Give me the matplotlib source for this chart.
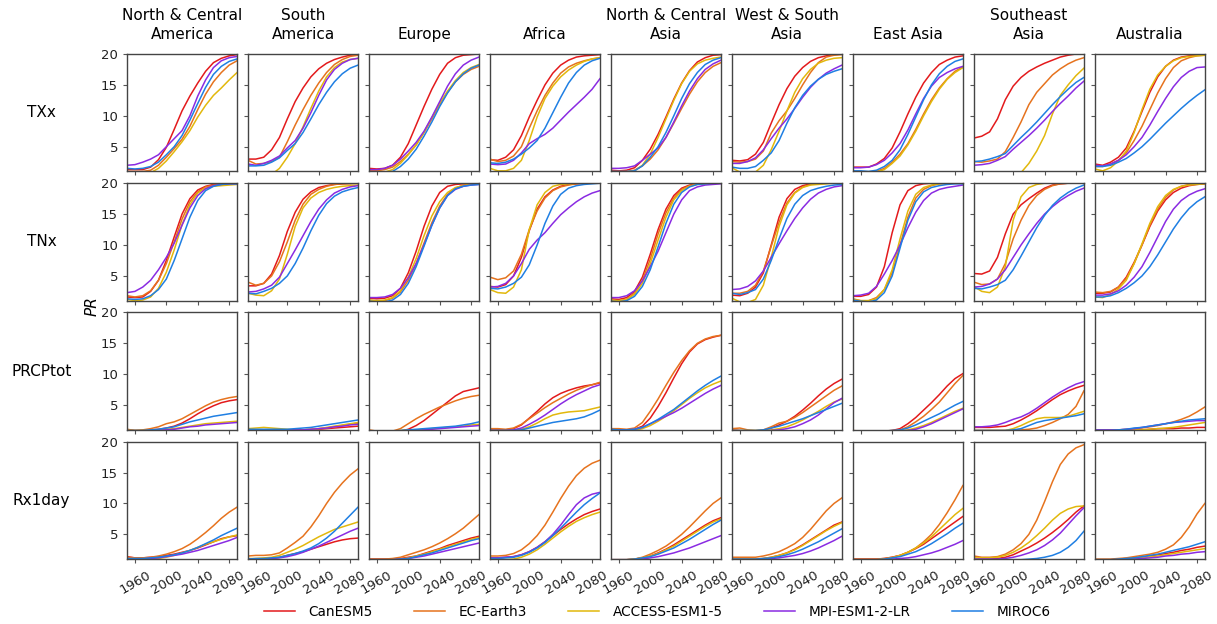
import matplotlib
matplotlib.use("Agg")
import matplotlib.pyplot as plt
import numpy as np

years = [1950, 1960, 1970, 1980, 1990, 2000, 2010, 2020, 2030, 2040, 2050, 2060, 2070, 2080, 2090]
regions = ["North & Central\nAmerica", "South\nAmerica", "Europe", "Africa", "North & Central\nAsia",
           "West & South\nAsia", "East Asia", "Southeast\nAsia", "Australia"]
indices = ["TXx", "TNx", "PRCPtot", "Rx1day"]
models = ["CanESM5", "EC-Earth3", "ACCESS-ESM1-5", "MPI-ESM1-2-LR", "MIROC6"]
colors = ["#e31a1c", "#e6731e", "#e2b80c", "#8a2be2", "#1f7fe3"]

# ---- TXx (rows = regions, cols = years) ----
txx_canesm5 = [
    [1.3, 1.3, 1.3, 1.7, 2.9, 4.9, 7.8, 10.8, 13.2, 15.3, 17.2, 18.6, 19.3, 19.7, 19.9],
    [3.0, 3.0, 3.3, 4.5, 6.5, 9.5, 12.3, 14.5, 16.3, 17.6, 18.5, 19.1, 19.5, 19.8, 19.9],
    [1.5, 1.4, 1.5, 2.0, 3.3, 5.5, 8.5, 11.5, 14.3, 16.7, 18.5, 19.4, 19.8, 19.9, 20.0],
    [2.9, 2.8, 3.3, 4.5, 6.8, 9.8, 12.5, 15.0, 16.9, 18.2, 19.0, 19.5, 19.7, 19.8, 19.9],
    [1.2, 1.1, 1.2, 1.6, 2.8, 4.6, 7.0, 9.8, 12.7, 15.3, 17.3, 18.7, 19.4, 19.8, 19.9],
    [2.8, 2.7, 2.9, 3.8, 5.7, 8.8, 11.8, 14.4, 16.4, 17.8, 18.8, 19.4, 19.7, 19.9, 20.0],
    [1.7, 1.7, 1.7, 2.2, 3.1, 4.8, 7.4, 10.3, 13.0, 15.3, 17.0, 18.3, 19.0, 19.5, 19.7],
    [6.4, 6.7, 7.4, 9.5, 12.6, 14.8, 16.2, 17.2, 17.9, 18.5, 19.0, 19.5, 19.8, 20.0, 20.0],
    [2.2, 2.0, 2.5, 3.3, 4.8, 7.5, 10.7, 13.8, 16.3, 18.0, 19.0, 19.5, 19.7, 19.8, 19.9],
]
txx_ecearth3 = [
    [1.0, 1.0, 1.0, 1.2, 2.0, 3.3, 4.7, 6.2, 8.3, 11.0, 13.5, 15.5, 17.0, 18.2, 18.9],
    [2.8, 2.2, 2.3, 2.6, 3.3, 5.8, 8.5, 11.0, 13.3, 15.3, 17.0, 18.3, 19.1, 19.6, 19.8],
    [1.2, 1.1, 1.3, 1.7, 2.6, 3.8, 5.3, 7.3, 9.5, 11.8, 13.8, 15.5, 16.7, 17.5, 18.0],
    [3.0, 2.6, 2.8, 3.5, 5.0, 8.0, 10.8, 13.3, 15.3, 16.9, 17.9, 18.5, 18.9, 19.2, 19.4],
    [1.0, 1.0, 1.0, 1.2, 1.9, 3.0, 4.5, 6.5, 8.8, 11.2, 13.5, 15.5, 17.0, 18.0, 18.6],
    [2.6, 2.5, 2.6, 3.0, 4.3, 7.2, 9.2, 10.8, 12.8, 15.0, 17.0, 18.6, 19.5, 19.8, 19.9],
    [1.0, 0.9, 0.9, 1.0, 1.5, 2.5, 3.8, 5.5, 7.8, 10.3, 12.6, 14.5, 16.0, 17.2, 17.9],
    [2.6, 2.5, 2.7, 3.0, 4.2, 6.5, 9.0, 11.8, 13.8, 15.2, 16.6, 17.6, 18.4, 19.0, 19.4],
    [1.8, 1.8, 2.2, 2.8, 4.0, 6.0, 8.3, 11.0, 13.7, 16.0, 17.8, 18.9, 19.4, 19.7, 19.8],
]
txx_access = [
    [0.5, 0.5, 0.6, 0.8, 1.5, 2.7, 4.2, 5.8, 7.6, 9.8, 11.7, 13.3, 14.5, 15.8, 17.0],
    [0.5, 0.5, 0.5, 0.5, 1.5, 3.3, 5.5, 8.2, 11.2, 14.0, 16.3, 17.8, 18.7, 19.1, 19.3],
    [0.8, 0.8, 0.9, 1.3, 2.3, 3.7, 5.3, 7.3, 9.7, 12.0, 14.0, 15.7, 17.0, 17.8, 18.3],
    [1.5, 1.1, 1.1, 1.5, 2.8, 6.0, 9.8, 12.8, 14.8, 16.3, 17.4, 18.2, 18.8, 19.2, 19.4],
    [0.9, 0.9, 0.9, 1.1, 2.0, 3.8, 6.5, 9.5, 12.5, 15.2, 17.2, 18.4, 19.0, 19.3, 19.5],
    [1.6, 0.9, 0.8, 0.9, 2.0, 4.5, 7.5, 10.8, 13.8, 16.0, 17.5, 18.5, 19.0, 19.3, 19.4],
    [0.8, 0.8, 0.8, 0.9, 1.3, 2.3, 3.5, 5.3, 7.5, 10.0, 12.3, 14.3, 15.9, 17.0, 17.8],
    [0.5, 0.5, 0.5, 0.5, 0.5, 0.5, 0.8, 2.3, 4.3, 6.8, 10.3, 13.3, 15.0, 16.5, 17.7],
    [1.4, 1.1, 1.6, 2.7, 4.3, 7.3, 11.0, 14.3, 16.6, 18.0, 18.9, 19.4, 19.6, 19.7, 19.8],
]
txx_mpi = [
    [2.0, 2.1, 2.5, 3.0, 3.7, 5.0, 6.3, 7.6, 10.0, 13.2, 15.8, 17.8, 18.9, 19.4, 19.6],
    [2.2, 2.0, 2.3, 2.8, 3.5, 4.8, 6.0, 8.0, 10.5, 13.3, 15.8, 17.5, 18.5, 19.1, 19.3],
    [1.3, 1.3, 1.5, 2.0, 3.0, 4.3, 5.7, 7.5, 9.8, 12.3, 14.8, 16.8, 18.2, 19.0, 19.5],
    [2.2, 2.1, 2.2, 2.8, 4.0, 5.5, 6.3, 7.0, 8.0, 9.3, 10.6, 11.8, 13.0, 14.3, 16.0],
    [1.5, 1.5, 1.6, 1.9, 2.8, 3.8, 4.8, 6.5, 9.0, 11.6, 14.0, 16.0, 17.5, 18.4, 19.0],
    [2.3, 2.3, 2.6, 3.2, 4.5, 6.3, 8.0, 9.5, 11.2, 13.0, 14.6, 15.9, 16.9, 17.6, 18.2],
    [1.6, 1.6, 1.7, 2.1, 2.8, 4.0, 5.5, 7.7, 10.3, 12.8, 14.8, 16.2, 17.0, 17.6, 18.0],
    [2.0, 2.1, 2.3, 2.8, 3.4, 4.6, 5.7, 6.8, 8.0, 9.3, 10.7, 12.0, 13.2, 14.5, 15.6],
    [2.0, 1.9, 2.2, 2.8, 3.7, 5.0, 6.5, 8.5, 10.7, 12.8, 14.7, 16.2, 17.2, 17.8, 17.9],
]
txx_miroc6 = [
    [1.5, 1.4, 1.5, 1.8, 2.5, 3.7, 5.0, 6.8, 9.3, 12.0, 14.6, 16.7, 18.0, 18.8, 19.2],
    [1.9, 1.9, 2.0, 2.5, 3.2, 4.4, 5.5, 7.3, 9.5, 11.8, 13.8, 15.5, 16.8, 17.7, 18.2],
    [0.9, 0.9, 0.9, 1.0, 1.8, 3.0, 4.6, 6.7, 9.0, 11.5, 13.7, 15.5, 16.8, 17.7, 18.2],
    [2.4, 2.3, 2.5, 3.0, 3.8, 4.8, 6.0, 8.0, 10.5, 13.0, 15.3, 17.0, 18.2, 18.9, 19.3],
    [1.0, 1.0, 1.0, 1.1, 1.9, 3.3, 5.0, 7.3, 10.0, 12.8, 15.2, 17.0, 18.3, 19.0, 19.4],
    [1.7, 1.5, 1.5, 1.8, 2.8, 4.0, 6.0, 8.8, 11.3, 13.3, 14.8, 15.9, 16.7, 17.2, 17.6],
    [1.1, 1.1, 1.0, 1.2, 1.8, 2.8, 4.5, 7.0, 9.8, 12.6, 15.0, 16.8, 18.0, 18.8, 19.2],
    [2.6, 2.7, 3.0, 3.4, 3.9, 5.2, 6.5, 7.7, 9.0, 10.4, 11.8, 13.1, 14.3, 15.4, 16.2],
    [1.8, 1.8, 2.0, 2.5, 3.1, 4.0, 5.0, 6.2, 7.5, 8.8, 10.0, 11.2, 12.3, 13.3, 14.2],
]

# ---- TNx ----
tnx_canesm5 = [
    [1.6, 1.5, 1.6, 2.5, 4.3, 7.5, 11.3, 15.0, 17.5, 18.9, 19.5, 19.8, 19.9, 19.9, 20.0],
    [3.4, 3.4, 3.8, 5.3, 8.3, 12.2, 15.3, 17.4, 18.6, 19.3, 19.6, 19.8, 19.9, 20.0, 20.0],
    [1.4, 1.3, 1.4, 1.8, 3.0, 5.5, 9.0, 13.0, 16.3, 18.5, 19.5, 19.8, 19.9, 20.0, 20.0],
    [3.3, 3.2, 3.6, 5.0, 8.0, 12.3, 15.8, 17.8, 18.9, 19.5, 19.8, 19.9, 20.0, 20.0, 20.0],
    [1.3, 1.2, 1.5, 2.5, 4.8, 8.5, 12.5, 15.8, 18.0, 19.2, 19.7, 19.9, 20.0, 20.0, 20.0],
    [1.9, 1.8, 2.2, 3.2, 5.5, 10.0, 14.5, 17.5, 19.0, 19.6, 19.9, 20.0, 20.0, 20.0, 20.0],
    [1.7, 1.7, 2.0, 3.2, 6.5, 12.0, 16.5, 18.8, 19.6, 19.9, 20.0, 20.0, 20.0, 20.0, 20.0],
    [5.4, 5.3, 5.8, 8.0, 11.8, 15.0, 16.5, 17.5, 18.4, 19.2, 19.7, 19.9, 20.0, 20.0, 20.0],
    [2.2, 2.2, 2.4, 3.2, 4.8, 7.2, 10.0, 13.0, 15.5, 17.3, 18.5, 19.2, 19.6, 19.8, 19.9],
]
tnx_ecearth3 = [
    [1.8, 1.6, 1.8, 2.6, 4.3, 7.0, 10.5, 14.2, 17.0, 18.6, 19.4, 19.7, 19.8, 19.9, 19.9],
    [4.0, 3.5, 3.8, 5.0, 7.3, 10.5, 14.0, 16.6, 18.2, 19.0, 19.5, 19.8, 19.9, 19.9, 20.0],
    [1.1, 0.9, 1.0, 1.4, 2.4, 4.3, 7.0, 10.3, 13.6, 16.3, 18.2, 19.2, 19.7, 19.9, 20.0],
    [4.8, 4.4, 4.7, 5.8, 8.5, 12.5, 15.5, 17.6, 18.8, 19.4, 19.7, 19.9, 20.0, 20.0, 20.0],
    [1.0, 1.0, 1.2, 2.2, 4.3, 7.7, 11.8, 15.2, 17.6, 19.0, 19.6, 19.9, 20.0, 20.0, 20.0],
    [2.2, 2.2, 2.5, 3.5, 5.8, 9.8, 13.7, 16.8, 18.5, 19.4, 19.8, 19.9, 20.0, 20.0, 20.0],
    [1.3, 1.0, 1.0, 1.5, 2.8, 5.5, 10.0, 14.5, 17.6, 19.0, 19.6, 19.9, 20.0, 20.0, 20.0],
    [4.0, 3.6, 3.7, 4.5, 7.0, 11.0, 14.0, 16.4, 18.0, 19.0, 19.6, 19.9, 20.0, 20.0, 20.0],
    [2.4, 2.3, 2.5, 3.2, 4.6, 7.0, 10.0, 13.2, 15.8, 17.7, 18.9, 19.5, 19.8, 19.9, 20.0],
]
tnx_access = [
    [1.2, 1.0, 1.1, 1.6, 3.0, 5.6, 9.2, 13.3, 16.5, 18.4, 19.2, 19.5, 19.6, 19.7, 19.8],
    [2.2, 1.9, 1.8, 2.6, 4.5, 8.5, 13.0, 16.0, 17.6, 18.5, 19.0, 19.3, 19.5, 19.6, 19.7],
    [1.1, 1.0, 1.1, 1.5, 2.6, 4.8, 7.8, 11.5, 14.7, 17.0, 18.5, 19.3, 19.6, 19.8, 19.9],
    [2.8, 2.3, 2.2, 3.2, 6.0, 12.5, 16.5, 18.5, 19.5, 19.8, 19.9, 20.0, 20.0, 20.0, 20.0],
    [1.1, 1.0, 1.2, 2.0, 3.8, 7.0, 10.8, 14.5, 17.3, 18.8, 19.5, 19.8, 19.9, 20.0, 20.0],
    [1.4, 0.8, 0.7, 1.2, 3.5, 8.0, 13.0, 16.5, 18.4, 19.3, 19.7, 19.8, 19.9, 20.0, 20.0],
    [1.2, 1.0, 1.0, 1.3, 2.8, 6.0, 11.0, 15.5, 18.2, 19.3, 19.7, 19.9, 20.0, 20.0, 20.0],
    [3.3, 2.5, 2.3, 3.2, 6.5, 14.0, 17.8, 19.3, 19.8, 20.0, 20.0, 20.0, 20.0, 20.0, 20.0],
    [1.6, 1.5, 2.0, 2.9, 4.3, 7.0, 10.2, 13.5, 16.2, 18.0, 19.0, 19.5, 19.7, 19.8, 19.9],
]
tnx_mpi = [
    [2.3, 2.5, 3.2, 4.3, 6.0, 8.0, 10.3, 13.2, 16.0, 18.0, 19.1, 19.6, 19.8, 19.9, 19.9],
    [2.4, 2.5, 2.9, 3.5, 4.8, 7.0, 9.2, 11.5, 13.8, 15.8, 17.3, 18.4, 19.0, 19.4, 19.6],
    [1.5, 1.5, 1.6, 2.0, 3.0, 4.7, 7.0, 10.0, 13.2, 16.0, 18.0, 19.0, 19.5, 19.7, 19.8],
    [3.2, 3.3, 3.8, 5.0, 7.0, 9.3, 10.8, 12.0, 13.5, 14.9, 16.0, 17.0, 17.8, 18.4, 18.8],
    [1.5, 1.5, 1.8, 2.6, 4.2, 6.5, 9.0, 12.0, 15.0, 17.3, 18.8, 19.4, 19.7, 19.8, 19.9],
    [2.8, 2.9, 3.3, 4.2, 5.8, 8.0, 10.2, 12.3, 14.3, 16.0, 17.4, 18.4, 19.0, 19.4, 19.6],
    [1.8, 1.9, 2.2, 3.3, 5.3, 7.5, 10.0, 12.8, 15.3, 17.2, 18.4, 19.0, 19.3, 19.5, 19.7],
    [3.2, 3.3, 3.7, 4.5, 6.0, 8.0, 10.0, 11.8, 13.5, 15.0, 16.2, 17.2, 18.0, 18.7, 19.2],
    [1.9, 1.9, 2.1, 2.6, 3.5, 4.8, 6.5, 8.8, 11.3, 13.8, 15.8, 17.2, 18.1, 18.7, 19.1],
]
tnx_miroc6 = [
    [1.3, 1.2, 1.3, 1.8, 2.8, 4.5, 7.5, 11.0, 14.5, 17.2, 18.8, 19.5, 19.8, 19.9, 19.9],
    [2.2, 2.1, 2.5, 3.0, 3.8, 5.0, 7.0, 9.5, 12.3, 14.8, 16.7, 17.9, 18.6, 19.0, 19.3],
    [0.9, 0.8, 0.8, 1.1, 2.0, 3.8, 6.5, 9.8, 13.2, 16.0, 18.0, 19.1, 19.5, 19.7, 19.8],
    [3.0, 2.9, 3.2, 3.8, 4.8, 6.8, 10.0, 13.5, 16.3, 18.2, 19.2, 19.6, 19.8, 19.9, 20.0],
    [0.9, 0.8, 1.0, 1.7, 3.3, 6.0, 9.7, 13.5, 16.6, 18.5, 19.4, 19.8, 19.9, 20.0, 20.0],
    [2.2, 2.0, 2.3, 2.8, 4.5, 7.5, 11.0, 14.3, 16.6, 18.0, 18.8, 19.2, 19.5, 19.7, 19.8],
    [1.1, 0.9, 0.8, 1.1, 2.3, 5.0, 9.5, 14.0, 17.0, 18.6, 19.3, 19.6, 19.8, 19.9, 19.9],
    [3.0, 2.9, 3.2, 3.6, 4.3, 6.0, 8.2, 10.5, 12.8, 14.8, 16.4, 17.6, 18.5, 19.2, 19.7],
    [1.6, 1.6, 1.8, 2.3, 3.0, 3.9, 5.0, 6.5, 8.4, 10.5, 12.6, 14.4, 15.9, 17.0, 17.8],
]

# ---- PRCPtot ----
prcptot_canesm5 = [
    [1.0, 0.9, 0.9, 1.0, 1.1, 1.3, 1.6, 2.1, 2.8, 3.6, 4.3, 4.9, 5.4, 5.7, 5.9],
    [1.0, 1.0, 1.0, 1.0, 1.0, 0.9, 0.9, 1.0, 1.0, 1.1, 1.2, 1.3, 1.4, 1.5, 1.6],
    [0.6, 0.6, 0.6, 0.6, 0.8, 1.1, 1.7, 2.5, 3.5, 4.5, 5.5, 6.5, 7.2, 7.5, 7.8],
    [1.0, 1.0, 1.0, 1.2, 1.8, 2.9, 4.0, 5.2, 6.2, 6.9, 7.4, 7.8, 8.1, 8.3, 8.6],
    [1.0, 1.0, 1.0, 1.1, 1.6, 2.9, 4.8, 7.0, 9.4, 11.7, 13.6, 14.9, 15.6, 16.0, 16.3],
    [1.0, 0.9, 0.8, 0.8, 0.9, 1.3, 1.8, 2.4, 3.2, 4.2, 5.3, 6.5, 7.6, 8.5, 9.2],
    [0.7, 0.7, 0.7, 0.7, 0.8, 0.9, 1.2, 2.0, 3.0, 4.2, 5.4, 6.7, 8.1, 9.3, 10.1],
    [1.4, 1.4, 1.4, 1.5, 1.6, 2.0, 2.6, 3.3, 4.1, 5.0, 5.9, 6.7, 7.3, 7.8, 8.2],
    [0.9, 0.9, 0.9, 0.9, 1.0, 1.0, 1.0, 1.1, 1.2, 1.2, 1.2, 1.3, 1.3, 1.4, 1.4],
]
prcptot_ecearth3 = [
    [1.1, 0.9, 1.0, 1.2, 1.5, 2.0, 2.3, 2.8, 3.5, 4.2, 4.9, 5.5, 5.9, 6.2, 6.4],
    [1.0, 1.0, 1.0, 1.0, 1.0, 1.0, 1.0, 1.0, 1.1, 1.2, 1.3, 1.5, 1.7, 1.9, 2.1],
    [1.0, 0.8, 0.7, 0.8, 1.2, 2.0, 2.8, 3.5, 4.1, 4.7, 5.2, 5.7, 6.1, 6.4, 6.6],
    [1.2, 1.2, 1.1, 1.3, 1.9, 2.8, 3.7, 4.6, 5.4, 6.1, 6.8, 7.4, 7.9, 8.3, 8.7],
    [1.2, 1.2, 1.1, 1.3, 2.2, 4.0, 6.0, 8.2, 10.3, 12.2, 13.8, 15.0, 15.7, 16.1, 16.3],
    [1.2, 1.3, 1.0, 0.9, 1.0, 1.5, 2.1, 2.4, 3.0, 3.8, 4.7, 5.6, 6.5, 7.4, 8.1],
    [0.9, 0.8, 0.7, 0.7, 0.8, 0.9, 1.0, 1.5, 2.3, 3.2, 4.3, 5.5, 7.0, 8.5, 9.8],
    [0.9, 0.9, 0.9, 0.9, 0.9, 1.0, 1.0, 1.1, 1.3, 1.7, 2.2, 2.8, 3.5, 4.8, 7.3],
    [1.0, 1.0, 1.0, 1.0, 1.1, 1.2, 1.3, 1.5, 1.7, 2.0, 2.3, 2.7, 3.2, 3.9, 4.7],
]
prcptot_access = [
    [0.9, 0.9, 0.9, 0.9, 1.0, 1.1, 1.2, 1.4, 1.6, 1.8, 2.0, 2.1, 2.2, 2.3, 2.4],
    [1.2, 1.3, 1.4, 1.3, 1.2, 1.1, 1.0, 1.0, 1.1, 1.2, 1.4, 1.6, 1.8, 2.0, 2.2],
    [0.8, 0.8, 0.8, 0.8, 0.9, 1.0, 1.0, 1.1, 1.2, 1.3, 1.4, 1.5, 1.6, 1.8, 1.9],
    [0.9, 0.9, 0.9, 0.9, 1.1, 1.5, 2.1, 2.8, 3.4, 3.7, 3.9, 4.0, 4.1, 4.4, 4.7],
    [0.9, 0.9, 0.9, 0.9, 1.2, 1.7, 2.4, 3.2, 4.1, 5.1, 6.1, 7.0, 7.8, 8.4, 8.9],
    [0.9, 0.9, 0.9, 0.9, 0.9, 1.0, 1.2, 1.5, 2.0, 2.6, 3.3, 4.0, 4.8, 5.5, 6.0],
    [0.8, 0.8, 0.8, 0.8, 0.8, 0.8, 0.9, 1.0, 1.3, 1.7, 2.2, 2.8, 3.4, 4.0, 4.5],
    [0.9, 0.9, 0.9, 0.9, 0.9, 1.2, 1.7, 2.3, 2.8, 3.0, 3.0, 3.0, 3.2, 3.6, 4.0],
    [0.9, 0.9, 0.9, 0.9, 0.9, 1.0, 1.0, 1.1, 1.2, 1.3, 1.4, 1.6, 1.8, 2.0, 2.2],
]
prcptot_mpi = [
    [0.8, 0.8, 0.8, 0.9, 0.95, 1.0, 1.1, 1.3, 1.5, 1.6, 1.8, 1.9, 2.0, 2.1, 2.2],
    [0.9, 0.9, 0.9, 0.9, 0.9, 1.0, 1.0, 1.0, 1.1, 1.2, 1.3, 1.5, 1.6, 1.8, 1.9],
    [0.8, 0.8, 0.8, 0.8, 0.8, 0.9, 0.9, 1.0, 1.1, 1.2, 1.3, 1.4, 1.5, 1.6, 1.7],
    [0.9, 0.9, 0.9, 1.0, 1.3, 1.9, 2.6, 3.4, 4.3, 5.2, 6.0, 6.7, 7.3, 7.9, 8.3],
    [1.0, 1.0, 1.0, 1.1, 1.4, 2.0, 2.6, 3.2, 3.8, 4.5, 5.3, 6.1, 6.9, 7.6, 8.2],
    [0.8, 0.8, 0.8, 0.8, 0.8, 0.9, 1.0, 1.2, 1.5, 2.0, 2.6, 3.4, 4.4, 5.4, 6.1],
    [0.8, 0.8, 0.8, 0.8, 0.8, 0.8, 0.8, 0.9, 1.1, 1.5, 2.0, 2.6, 3.2, 3.8, 4.4],
    [1.5, 1.5, 1.6, 1.8, 2.2, 2.7, 3.1, 3.7, 4.5, 5.4, 6.3, 7.1, 7.8, 8.4, 8.8],
    [1.0, 1.0, 1.0, 1.0, 1.1, 1.2, 1.4, 1.6, 1.8, 2.0, 2.2, 2.3, 2.4, 2.5, 2.5],
]
prcptot_miroc6 = [
    [0.9, 0.9, 0.9, 1.0, 1.1, 1.3, 1.5, 1.9, 2.3, 2.6, 2.9, 3.2, 3.4, 3.6, 3.8],
    [1.1, 1.1, 1.1, 1.1, 1.1, 1.1, 1.2, 1.3, 1.4, 1.6, 1.8, 2.0, 2.2, 2.4, 2.6],
    [0.8, 0.8, 0.8, 0.8, 0.9, 1.0, 1.1, 1.2, 1.3, 1.4, 1.5, 1.6, 1.8, 2.0, 2.3],
    [0.9, 0.9, 0.9, 0.9, 1.0, 1.3, 1.6, 1.9, 2.2, 2.4, 2.6, 2.8, 3.1, 3.6, 4.2],
    [1.1, 1.0, 1.0, 1.1, 1.4, 2.0, 2.7, 3.5, 4.3, 5.3, 6.3, 7.3, 8.2, 9.0, 9.7],
    [0.9, 0.9, 0.9, 0.9, 1.0, 1.3, 1.6, 2.0, 2.4, 2.8, 3.3, 3.8, 4.3, 4.8, 5.3],
    [0.8, 0.8, 0.8, 0.8, 0.8, 0.9, 1.0, 1.3, 1.8, 2.4, 3.0, 3.6, 4.3, 5.0, 5.6],
    [0.9, 0.9, 0.9, 0.9, 0.9, 1.0, 1.2, 1.7, 2.2, 2.5, 2.7, 2.9, 3.1, 3.3, 3.6],
    [0.9, 0.9, 0.9, 1.0, 1.1, 1.3, 1.4, 1.6, 1.8, 2.0, 2.2, 2.4, 2.6, 2.7, 2.8],
]

# ---- Rx1day ----
rx1day_canesm5 = [
    [1.4, 1.2, 1.2, 1.3, 1.4, 1.6, 1.8, 2.1, 2.4, 2.8, 3.3, 3.8, 4.3, 4.6, 4.8],
    [1.0, 1.0, 1.0, 1.1, 1.3, 1.6, 1.9, 2.2, 2.6, 3.0, 3.4, 3.8, 4.1, 4.3, 4.4],
    [1.0, 1.0, 1.0, 1.0, 1.1, 1.3, 1.5, 1.9, 2.3, 2.7, 3.2, 3.6, 4.0, 4.4, 4.7],
    [1.2, 1.2, 1.3, 1.4, 1.7, 2.2, 2.9, 3.8, 4.8, 5.8, 6.7, 7.5, 8.2, 8.7, 9.1],
    [0.9, 0.9, 0.9, 1.0, 1.2, 1.5, 2.0, 2.6, 3.3, 4.1, 4.9, 5.7, 6.5, 7.2, 7.7],
    [1.0, 1.0, 1.0, 1.0, 1.1, 1.3, 1.6, 2.0, 2.6, 3.3, 4.1, 4.9, 5.7, 6.5, 7.0],
    [1.0, 1.0, 1.0, 1.0, 1.1, 1.3, 1.6, 2.1, 2.7, 3.4, 4.3, 5.2, 6.1, 7.0, 7.9],
    [1.0, 1.0, 1.0, 1.1, 1.3, 1.7, 2.3, 2.9, 3.6, 4.4, 5.3, 6.3, 7.4, 8.6, 9.6],
    [0.9, 0.9, 0.9, 1.0, 1.1, 1.2, 1.3, 1.5, 1.7, 1.9, 2.1, 2.4, 2.6, 2.9, 3.1],
]
rx1day_ecearth3 = [
    [1.3, 1.2, 1.2, 1.3, 1.5, 1.8, 2.2, 2.7, 3.4, 4.3, 5.3, 6.4, 7.6, 8.6, 9.4],
    [1.5, 1.6, 1.6, 1.7, 2.0, 2.8, 3.7, 4.7, 6.2, 8.0, 10.0, 11.8, 13.3, 14.6, 15.6],
    [1.0, 1.0, 1.0, 1.1, 1.3, 1.7, 2.1, 2.5, 3.0, 3.6, 4.3, 5.1, 6.0, 7.1, 8.2],
    [1.5, 1.5, 1.6, 1.9, 2.5, 3.5, 4.8, 6.5, 8.6, 10.8, 12.8, 14.5, 15.7, 16.5, 17.0],
    [0.9, 0.9, 0.9, 1.0, 1.3, 1.8, 2.4, 3.1, 4.0, 5.0, 6.2, 7.5, 8.8, 10.0, 10.9],
    [1.3, 1.3, 1.3, 1.3, 1.5, 1.8, 2.2, 2.8, 3.5, 4.5, 5.8, 7.3, 8.8, 10.0, 10.9],
    [1.0, 1.0, 1.0, 1.0, 1.1, 1.3, 1.6, 2.1, 2.8, 3.8, 5.0, 6.6, 8.5, 10.6, 12.9],
    [1.5, 1.3, 1.3, 1.4, 1.8, 2.5, 3.5, 5.0, 7.3, 10.3, 13.5, 16.3, 18.0, 19.0, 19.5],
    [1.0, 1.0, 1.0, 1.1, 1.2, 1.4, 1.6, 1.8, 2.1, 2.6, 3.3, 4.5, 6.2, 8.3, 10.0],
]
rx1day_access = [
    [1.0, 1.0, 1.0, 1.0, 1.1, 1.3, 1.6, 2.0, 2.4, 2.9, 3.4, 3.8, 4.2, 4.6, 4.9],
    [1.1, 1.1, 1.2, 1.3, 1.6, 2.1, 2.6, 3.2, 3.9, 4.6, 5.2, 5.8, 6.2, 6.6, 7.0],
    [0.9, 0.9, 0.9, 0.9, 1.0, 1.2, 1.5, 1.8, 2.2, 2.6, 3.0, 3.4, 3.8, 4.2, 4.5],
    [0.9, 0.9, 0.9, 1.0, 1.3, 1.8, 2.5, 3.4, 4.4, 5.4, 6.3, 7.1, 7.7, 8.2, 8.6],
    [0.9, 0.9, 0.9, 1.0, 1.2, 1.5, 1.9, 2.5, 3.1, 3.9, 4.7, 5.5, 6.3, 7.0, 7.5],
    [1.0, 1.0, 1.0, 1.0, 1.1, 1.3, 1.6, 2.0, 2.5, 3.2, 4.0, 4.8, 5.6, 6.3, 6.9],
    [0.9, 0.9, 0.9, 0.9, 1.0, 1.2, 1.6, 2.1, 2.8, 3.6, 4.6, 5.8, 7.0, 8.2, 9.2],
    [1.2, 1.2, 1.2, 1.3, 1.6, 2.1, 2.8, 3.7, 4.8, 6.0, 7.3, 8.4, 9.1, 9.5, 9.6],
    [0.9, 0.9, 0.9, 0.9, 1.0, 1.1, 1.2, 1.4, 1.5, 1.7, 1.9, 2.1, 2.3, 2.5, 2.7],
]
rx1day_mpi = [
    [1.0, 1.0, 1.0, 1.1, 1.2, 1.4, 1.6, 1.8, 2.1, 2.4, 2.8, 3.2, 3.6, 4.0, 4.5],
    [1.0, 1.0, 1.0, 1.1, 1.2, 1.4, 1.7, 2.1, 2.6, 3.1, 3.7, 4.3, 4.9, 5.5, 6.0],
    [0.9, 0.9, 0.9, 0.9, 1.0, 1.1, 1.3, 1.5, 1.8, 2.1, 2.4, 2.7, 3.0, 3.3, 3.6],
    [1.2, 1.2, 1.3, 1.4, 1.7, 2.2, 2.9, 3.8, 5.0, 6.5, 8.2, 9.8, 10.9, 11.5, 11.8],
    [0.9, 0.9, 0.9, 0.9, 1.0, 1.2, 1.4, 1.7, 2.0, 2.4, 2.8, 3.3, 3.8, 4.3, 4.8],
    [0.9, 0.9, 0.9, 0.9, 1.0, 1.1, 1.2, 1.4, 1.6, 1.9, 2.3, 2.8, 3.4, 4.0, 4.7],
    [0.9, 0.9, 0.9, 0.9, 0.9, 1.0, 1.1, 1.2, 1.4, 1.7, 2.0, 2.4, 2.9, 3.4, 4.0],
    [1.0, 1.0, 1.0, 1.0, 1.1, 1.3, 1.6, 2.0, 2.5, 3.2, 4.1, 5.2, 6.6, 8.0, 9.3],
    [0.9, 0.9, 0.9, 0.9, 0.9, 1.0, 1.1, 1.2, 1.3, 1.5, 1.6, 1.8, 1.9, 2.1, 2.2],
]
rx1day_miroc6 = [
    [1.1, 1.1, 1.1, 1.2, 1.3, 1.5, 1.7, 2.0, 2.4, 2.9, 3.5, 4.1, 4.8, 5.4, 6.0],
    [1.0, 1.1, 1.1, 1.2, 1.3, 1.6, 1.9, 2.3, 2.8, 3.5, 4.4, 5.5, 6.8, 8.1, 9.4],
    [0.9, 0.9, 0.9, 0.9, 1.0, 1.1, 1.4, 1.7, 2.0, 2.4, 2.8, 3.2, 3.6, 4.0, 4.3],
    [1.1, 1.1, 1.2, 1.3, 1.6, 2.1, 2.8, 3.7, 4.8, 6.0, 7.3, 8.6, 9.8, 10.8, 11.7],
    [0.9, 0.9, 0.9, 1.0, 1.2, 1.4, 1.8, 2.3, 2.8, 3.5, 4.2, 5.0, 5.8, 6.6, 7.3],
    [1.0, 1.0, 1.0, 1.0, 1.1, 1.2, 1.4, 1.7, 2.1, 2.6, 3.2, 3.8, 4.5, 5.2, 5.9],
    [0.9, 0.9, 0.9, 0.9, 1.0, 1.2, 1.4, 1.8, 2.2, 2.8, 3.5, 4.3, 5.1, 6.0, 6.8],
    [0.9, 0.9, 0.9, 0.9, 0.9, 0.9, 0.9, 1.0, 1.1, 1.3, 1.6, 2.1, 2.9, 4.0, 5.5],
    [0.9, 0.9, 0.9, 1.0, 1.1, 1.2, 1.4, 1.6, 1.8, 2.1, 2.4, 2.7, 3.0, 3.4, 3.8],
]

data = {
    "TXx": [txx_canesm5, txx_ecearth3, txx_access, txx_mpi, txx_miroc6],
    "TNx": [tnx_canesm5, tnx_ecearth3, tnx_access, tnx_mpi, tnx_miroc6],
    "PRCPtot": [prcptot_canesm5, prcptot_ecearth3, prcptot_access, prcptot_mpi, prcptot_miroc6],
    "Rx1day": [rx1day_canesm5, rx1day_ecearth3, rx1day_access, rx1day_mpi, rx1day_miroc6],
}

fig, axes = plt.subplots(4, 9, figsize=(12.17, 6.24), dpi=100, sharex=True, sharey=True)
fig.subplots_adjust(left=0.1044, right=0.990, top=0.9135, bottom=0.104, wspace=0.1, hspace=0.1)

for i, idx in enumerate(indices):
    for j, reg in enumerate(regions):
        ax = axes[i, j]
        for k, m in enumerate(models):
            ax.plot(years, data[idx][k][j], color=colors[k], lw=1.1, label=m)
        ax.set_xlim(1950, 2090)
        ax.set_ylim(1, 20)
        ax.set_yticks([5, 10, 15, 20])
        ax.set_xticks([1960, 2000, 2040, 2080])
        ax.tick_params(labelsize=9.5, length=3, color="#555555", labelcolor="#222222")
        for s in ax.spines.values():
            s.set_color("#444444")
            s.set_linewidth(1.0)
        if i == 0:
            ax.set_title(reg, fontsize=11, pad=11, linespacing=1.3)
        if i == 3:
            for lab in ax.get_xticklabels():
                lab.set_rotation(30)
                lab.set_ha("center")
    pos = axes[i, 0].get_position()
    fig.text(0.034, 0.5 * (pos.y0 + pos.y1), idx, fontsize=11, ha="center", va="center")

fig.text(0.076, 0.51, "PR", fontsize=11, style="italic", rotation=90, ha="center", va="center")

handles, labels = axes[0, 0].get_legend_handles_labels()
fig.legend(handles, labels, loc="center", bbox_to_anchor=(0.54, 0.02), ncol=5,
           frameon=False, fontsize=9.8, handlelength=2.3, handletextpad=1.0, columnspacing=3.0)

fig.savefig("out.png", dpi=100)
